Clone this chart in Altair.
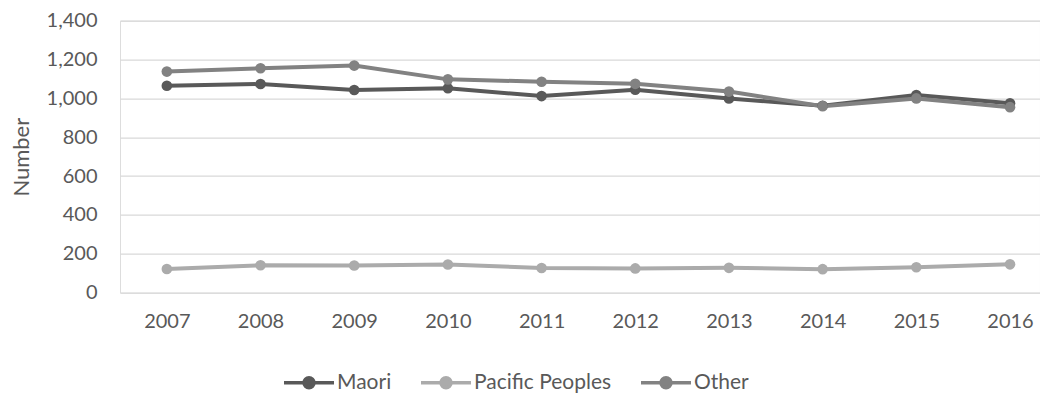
import altair as alt
import pandas as pd

years = [2007, 2008, 2009, 2010, 2011, 2012, 2013, 2014, 2015, 2016]
series = ["Maori", "Pacific Peoples", "Other"]
maori = [1065, 1074, 1043, 1052, 1012, 1045, 1000, 962, 1017, 975]
pacific = [122, 141, 140, 145, 127, 125, 128, 121, 131, 146]
other = [1138, 1155, 1169, 1098, 1086, 1075, 1035, 960, 1000, 955]
colors = ["#595959", "#ababab", "#828282"]

rows = []
for name, vals in zip(series, [maori, pacific, other]):
    for y, v in zip(years, vals):
        rows.append({"Year": y, "Series": name, "Number": v})
df = pd.DataFrame(rows)

FONT = "Lato"
TXT = "#595959"

x = alt.X("Year:Q", scale=alt.Scale(domain=[2006.5, 2016.32], nice=False, zero=False),
          axis=alt.Axis(values=years, format="d", title=None, grid=False, domain=False,
                        ticks=False, labelFont=FONT, labelFontSize=20, labelColor=TXT,
                        labelPadding=19, labelFlush=False))
y = alt.Y("Number:Q", scale=alt.Scale(domain=[0, 1400], nice=False),
          axis=alt.Axis(values=[0, 200, 400, 600, 800, 1000, 1200, 1400], format=",d",
                        title="Number", titleFont=FONT, titleFontSize=22, titleFontWeight="normal",
                        titleColor=TXT, titleX=-99, titleY=136, titleBaseline="middle",
                        titleAngle=270, domain=False, ticks=False, labelFont=FONT,
                        labelFontSize=20, labelColor=TXT, labelPadding=23,
                        gridColor="#d9d9d9", gridWidth=1.3))

sym = "M-2.5,0L2.5,0M-0.5,0A0.5,0.5,0,1,0,0.5,0A0.5,0.5,0,1,0,-0.5,0Z"
legend = alt.Legend(title=None, orient="none", legendX=177, legendY=350,
                    direction="horizontal", symbolType=sym, symbolSize=400,
                    symbolStrokeWidth=3.5, labelFont=FONT, labelFontSize=21,
                    labelColor=TXT, labelOffset=16, columnPadding=22,
                    symbolOpacity=1)
color = alt.Color("Series:N", scale=alt.Scale(domain=series, range=colors),
                  sort=series, legend=legend)

lines = alt.Chart(df).mark_line(strokeWidth=4).encode(x=x, y=y, color=color)
points = alt.Chart(df).mark_point(filled=True, size=113, opacity=1).encode(x=x, y=y, color=color)

chart = alt.layer(lines, points).properties(
    width=920, height=272,
    autosize=alt.AutoSizeParams(type="none"),
    padding={"left": 112, "top": 12.7, "right": 0, "bottom": 101},
).configure_view(stroke=None).configure(background="white")

chart.save("out.html", embed_options={"renderer": "svg", "actions": False})
